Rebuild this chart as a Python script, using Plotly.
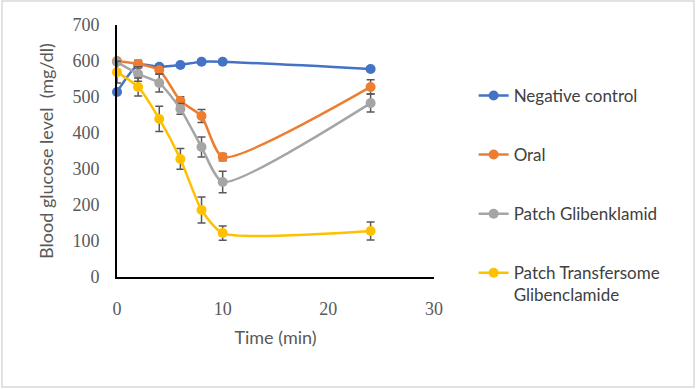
import plotly.graph_objects as go

time = [0, 2, 4, 6, 8, 10, 24]

names = ["Negative control", "Oral", "Patch Glibenklamid", "Patch Transfersome<br>Glibenclamide"]
colors = ["#4472C4", "#ED7D31", "#A5A5A5", "#FFC000"]

neg_control = [514, 589, 584, 589, 598, 598, 578]
oral = [600, 592, 575, 489, 447, 333, 528]
patch_glib = [597, 564, 539, 467, 361, 264, 483]
patch_trans = [569, 528, 439, 328, 186, 122, 128]

neg_err = [5, 5, 5, 5, 5, 5, 5]
oral_err = [5, 10, 12, 12, 18, 10, 20]
glib_err = [5, 20, 25, 15, 28, 30, 25]
trans_err = [30, 25, 35, 29, 36, 20, 25]

series = [neg_control, oral, patch_glib, patch_trans]
errors = [neg_err, oral_err, glib_err, trans_err]

fig = go.Figure()
for i, (nm, col, ys, er) in enumerate(zip(names, colors, series, errors)):
    fig.add_trace(go.Scatter(
        x=time, y=ys, name=nm, mode="lines+markers",
        line=dict(color=col, width=2.5, shape="spline", smoothing=0.6),
        marker=dict(color=col, size=10),
        error_y=dict(type="data", array=er, visible=True, color="#595959", thickness=1.5, width=4),
        cliponaxis=False, legendgroup=f"g{i}",
    ))

fig.update_layout(
    width=696, height=389,
    margin=dict(l=117, r=262, t=25, b=112),
    paper_bgcolor="white", plot_bgcolor="white",
    showlegend=True,
    legend=dict(x=1.125, y=0.79, xanchor="left", yanchor="top",
                font=dict(family="Lato", size=17, color="#404040"),
                tracegroupgap=34, valign="top"),
    xaxis=dict(range=[0, 30], dtick=10, showgrid=False, zeroline=False,
               showline=True, linecolor="black", linewidth=2, ticks="",
               ticklabelstandoff=14,
               tickfont=dict(family="Liberation Serif", size=18, color="#595959"),
               title=dict(text="Time (min)", font=dict(family="Lato", size=18, color="#595959"), standoff=14)),
    yaxis=dict(range=[0, 700], dtick=100, showgrid=False, zeroline=False,
               showline=True, linecolor="black", linewidth=2, ticks="",
               ticklabelstandoff=12,
               tickfont=dict(family="Liberation Serif", size=18, color="#595959"),
               title=dict(text="Blood glucose level  (mg/dl)", font=dict(family="Lato", size=18, color="#595959"), standoff=14)),
)

fig.add_shape(type="rect", xref="paper", yref="paper",
              x0=(2 - 117) / 317, x1=(694 - 117) / 317,
              y0=(277 - 387) / 252, y1=(277 - 1) / 252,
              line=dict(color="#D9D9D9", width=1.5), layer="below")

fig.write_html("out.html", config={"displayModeBar": False},
               post_script="document.body.style.margin='0';document.body.style.overflow='hidden';")
